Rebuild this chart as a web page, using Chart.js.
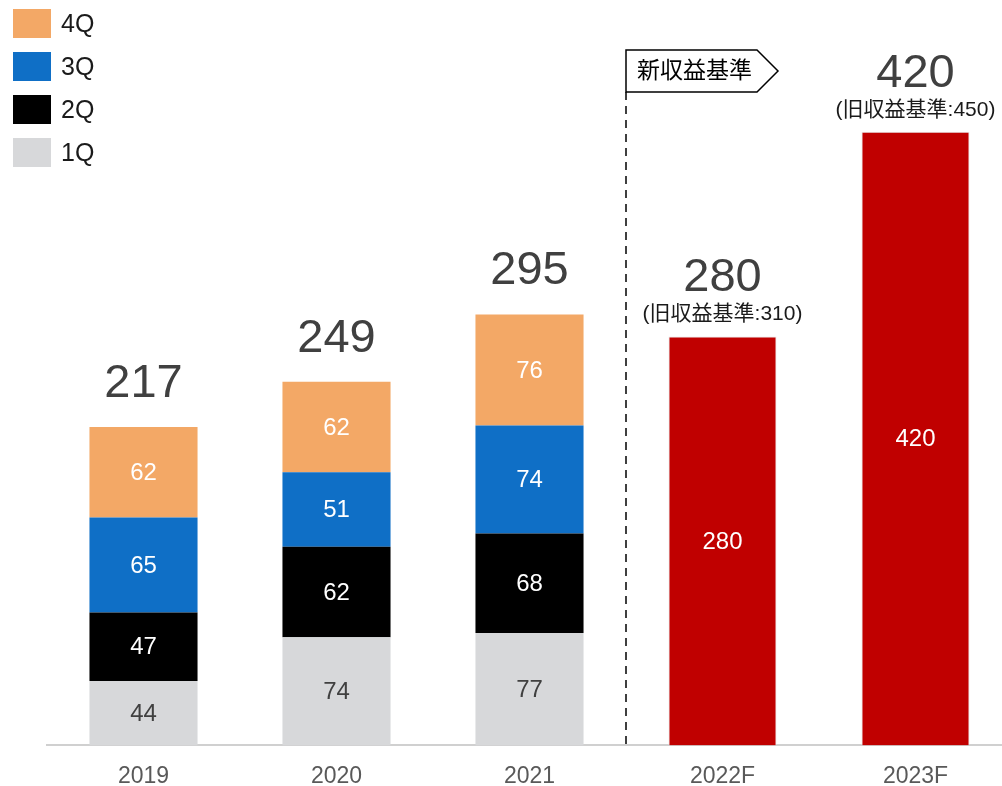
<!DOCTYPE html>
<html lang="ja">
<head>
  <meta charset="UTF-8">
  <title>Revenue by quarter</title>
  <script src="https://cdn.jsdelivr.net/npm/chart.js"></script>
  <style>
    body {
      margin: 0;
      background: #ffffff;
      overflow: hidden;
    }

    #wrap {
      position: relative;
      width: 1015px;
      height: 807px;
    }
  </style>
</head>
<body>

  <div id="wrap">
    <canvas id="revenueChart"></canvas>
  </div>

  <script>
    // categories and values
    const years = ['2019', '2020', '2021', '2022F', '2023F'];
    const q1 = [44, 74, 77, null, null];
    const q2 = [47, 62, 68, null, null];
    const q3 = [65, 51, 74, null, null];
    const q4 = [62, 62, 76, null, null];
    const forecast = [null, null, null, 280, 420];
    const totals = [217, 249, 295, 280, 420];
    const oldBasis = [null, null, null, 310, 450];
    const legendItems = ['4Q', '3Q', '2Q', '1Q'];

    const FONT = "'Liberation Sans', Arial, 'Noto Sans CJK JP', sans-serif";
    const colors = {
      '1Q': '#d7d8da',
      '2Q': '#000000',
      '3Q': '#0f6fc6',
      '4Q': '#f3a866',
      'F': '#c00000'
    };

    // labels, totals, divider and legend drawn on top of the bars
    const overlayPlugin = {
      id: 'overlay',
      afterDatasetsDraw(chart) {
        const ctx = chart.ctx;
        const xScale = chart.scales.x;
        const base = chart.chartArea.bottom;

        // values inside each segment
        ctx.save();
        ctx.textAlign = 'center';
        ctx.textBaseline = 'middle';
        ctx.font = '24px ' + FONT;
        chart.data.datasets.forEach((ds, i) => {
          const meta = chart.getDatasetMeta(i);
          meta.data.forEach((el, j) => {
            const v = ds.data[j];
            if (v == null) return;
            ctx.fillStyle = ds.label === '1Q' ? '#404040' : '#ffffff';
            ctx.fillText(String(v), el.x, (el.y + el.base) / 2 + 1);
          });
        });

        // totals above bars
        years.forEach((y, j) => {
          let top = base;
          chart.data.datasets.forEach((ds, i) => {
            if (ds.data[j] == null) return;
            const el = chart.getDatasetMeta(i).data[j];
            top = Math.min(top, el.y);
          });
          const x = xScale.getPixelForValue(j);
          ctx.fillStyle = '#404040';
          ctx.font = '47px ' + FONT;
          if (oldBasis[j] != null) {
            ctx.fillText(String(totals[j]), x, top - 58);
            ctx.fillStyle = '#1a1a1a';
            ctx.font = '21px ' + FONT;
            ctx.fillText('(旧収益基準:' + oldBasis[j] + ')', x, top - 22);
          } else {
            ctx.fillText(String(totals[j]), x, top - 43);
          }
        });

        // dashed divider between actual and forecast
        const divX = (xScale.getPixelForValue(2) + xScale.getPixelForValue(3)) / 2;
        ctx.strokeStyle = '#000000';
        ctx.lineWidth = 1.5;
        ctx.setLineDash([8, 6]);
        ctx.beginPath();
        ctx.moveTo(divX, 92);
        ctx.lineTo(divX, base);
        ctx.stroke();
        ctx.setLineDash([]);

        // arrow shaped tag
        ctx.fillStyle = '#ffffff';
        ctx.beginPath();
        ctx.moveTo(divX, 50);
        ctx.lineTo(divX + 131, 50);
        ctx.lineTo(divX + 152, 71);
        ctx.lineTo(divX + 131, 92);
        ctx.lineTo(divX, 92);
        ctx.closePath();
        ctx.fill();
        ctx.stroke();
        ctx.fillStyle = '#000000';
        ctx.font = '23px ' + FONT;
        ctx.textAlign = 'left';
        ctx.fillText('新収益基準', divX + 11, 72);

        // legend, top-left
        legendItems.forEach((name, k) => {
          const y = 9 + k * 43;
          ctx.fillStyle = colors[name];
          ctx.fillRect(13, y, 38, 29);
          ctx.fillStyle = '#1a1a1a';
          ctx.font = '25px ' + FONT;
          ctx.fillText(name, 61, y + 16);
        });
        ctx.restore();
      }
    };

    const ctxRevenue = document.getElementById('revenueChart').getContext('2d');
    new Chart(ctxRevenue, {
      type: 'bar',
      data: {
        labels: years,
        datasets: [
          { label: '1Q', data: q1, backgroundColor: colors['1Q'] },
          { label: '2Q', data: q2, backgroundColor: colors['2Q'] },
          { label: '3Q', data: q3, backgroundColor: colors['3Q'] },
          { label: '4Q', data: q4, backgroundColor: colors['4Q'] },
          { label: 'F', data: forecast, backgroundColor: colors['F'], borderColor: '#e6e6e6', borderWidth: 1 }
        ]
      },
      options: {
        responsive: true,
        maintainAspectRatio: false,
        animation: false,
        datasets: {
          bar: {
            barPercentage: 0.56,
            categoryPercentage: 1
          }
        },
        layout: {
          padding: { left: 47, right: 3, top: 15, bottom: 0 }
        },
        plugins: {
          legend: { display: false },
          tooltip: { enabled: false }
        },
        scales: {
          x: {
            stacked: true,
            grid: { display: false, drawTicks: false },
            border: { display: true, color: '#d0d0d0', width: 2 },
            ticks: {
              color: '#595959',
              padding: 17,
              font: { family: FONT, size: 23 }
            }
          },
          y: {
            stacked: true,
            display: false,
            min: 0,
            max: 500
          }
        }
      },
      plugins: [overlayPlugin]
    });
  </script>
</body>
</html>
